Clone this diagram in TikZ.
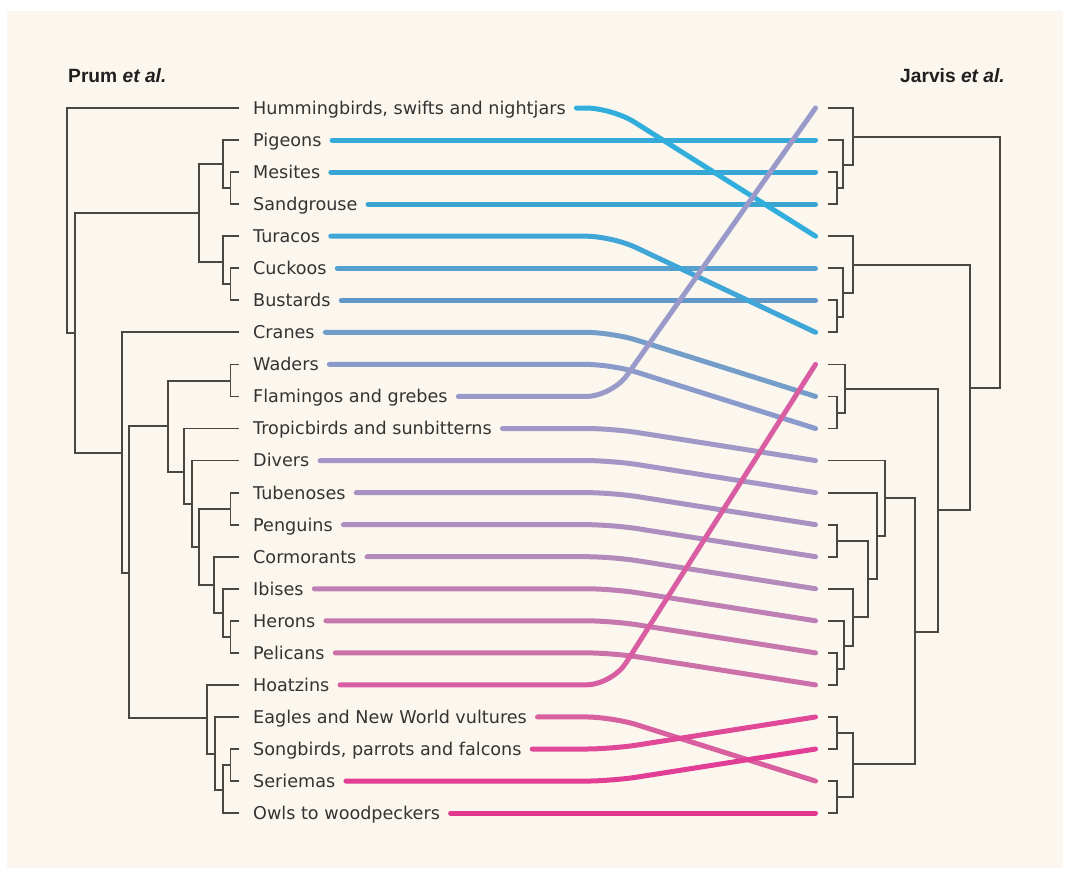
\documentclass[tikz,border=0pt]{standalone}
\usepackage{fontspec}
\setmainfont{DejaVu Sans}
\newfontfamily\headfont{Liberation Sans}
\usetikzlibrary{calc}
\definecolor{bg}{HTML}{FBF7EE}
\definecolor{txt}{HTML}{333333}
\definecolor{treec}{HTML}{4A4743}
\definecolor{c0}{HTML}{32AEDC}
\definecolor{c1}{HTML}{35A9D8}
\definecolor{c2}{HTML}{38A6D4}
\definecolor{c3}{HTML}{3BA3D0}
\definecolor{c4}{HTML}{40A6D8}
\definecolor{c5}{HTML}{55A0CC}
\definecolor{c6}{HTML}{6298C8}
\definecolor{c7}{HTML}{749EC9}
\definecolor{c8}{HTML}{8A9ACB}
\definecolor{c9}{HTML}{9A9ACA}
\definecolor{c10}{HTML}{A098C6}
\definecolor{c11}{HTML}{A396C6}
\definecolor{c12}{HTML}{A892C2}
\definecolor{c13}{HTML}{AE8EBE}
\definecolor{c14}{HTML}{B48ABA}
\definecolor{c15}{HTML}{BE80B4}
\definecolor{c16}{HTML}{C678AE}
\definecolor{c17}{HTML}{CC70AA}
\definecolor{c18}{HTML}{D95DA2}
\definecolor{c19}{HTML}{D8609E}
\definecolor{c20}{HTML}{E04898}
\definecolor{c21}{HTML}{E23E96}
\definecolor{c22}{HTML}{E0388F}
\begin{document}
\begin{tikzpicture}[x=1pt,y=-1pt,
  tree/.style={draw=treec, line width=1.8pt},
  lab/.style={anchor=base west, inner sep=0pt, text=txt, font=\fontsize{17.6}{20}\selectfont},
  head/.style={inner sep=0pt, text=black!88, font=\headfont\bfseries\fontsize{19.2}{22}\selectfont},
  link/.style={line width=5pt, line cap=round, rounded corners=26pt}]
\fill[white] (0,0) rectangle (1070,879);
\fill[bg] (7,11) rectangle (1063,868);
\useasboundingbox (0,0) rectangle (1070,879);
% row coordinates
\foreach \i in {0,...,22}{
  \coordinate (lf\i) at (239,{108+32.05*\i});
  \coordinate (rt\i) at (828,{108+32.05*\i});
  \coordinate (re\i) at (815.5,{108+32.05*\i});
}
% headers
\node[head, anchor=base west] (hl) at (68,82) {Prum \textit{et al.}};
\node[head, anchor=base east] (hr) at (1005,82) {Jarvis \textit{et al.}};
% labels
\foreach \i/\t in {0/{Hummingbirds, swifts and nightjars},1/Pigeons,2/Mesites,3/Sandgrouse,4/Turacos,5/Cuckoos,6/Bustards,7/Cranes,8/Waders,9/Flamingos and grebes,10/Tropicbirds and sunbitterns,11/Divers,12/Tubenoses,13/Penguins,14/Cormorants,15/Ibises,16/Herons,17/Pelicans,18/Hoatzins,19/Eagles and New World vultures,20/{Songbirds, parrots and falcons},21/Seriemas,22/Owls to woodpeckers}{
  \node[lab] (L\i) at (253,{108+32.05*\i+6.4}) {\t};
}
% coloured links
\foreach \i/\j in {1/1,2/2,3/3,5/5,6/6,7/9,8/10,10/11,11/12,12/13,13/14,14/15,15/16,16/17,17/18,19/21,20/19,21/20,22/22,0/4,4/7,9/0,18/8}{
  \draw[link, draw=c\i] ($(L\i.base east)+(10.5,-6.4)$) -- (612,{108+32.05*\i}) -- (re\j);
}
% left tree
\coordinate (lA) at (66.7,220);
\coordinate (lB) at (75,333);
\coordinate (lC) at (199,213);
\coordinate (lC1) at (222.7,164);
\coordinate (lC1a) at (230.5,188);
\coordinate (lC2) at (222.7,262);
\coordinate (lC2a) at (230.5,284);
\coordinate (lD) at (121.7,452.7);
\coordinate (lE) at (129.3,573);
\coordinate (lF) at (168.3,426);
\coordinate (lF1) at (230.5,381);
\coordinate (lF2) at (184,471.7);
\coordinate (lF3) at (191.7,504);
\coordinate (lF4) at (199.3,547);
\coordinate (lF5) at (230.5,509);
\coordinate (lF6) at (214.3,585);
\coordinate (lF7) at (222.7,613);
\coordinate (lF8) at (230.5,637);
\coordinate (lG) at (206.7,718);
\coordinate (lG1) at (215,754);
\coordinate (lG2) at (222.7,790);
\coordinate (lG3) at (230.5,765);
\foreach \p/\a/\b in {lA/lf0/lB, lB/lC/lD, lC/lC1/lC2, lC1/lf1/lC1a, lC1a/lf2/lf3, lC2/lf4/lC2a, lC2a/lf5/lf6, lD/lf7/lE, lE/lF/lG, lF/lF1/lF2, lF1/lf8/lf9, lF2/lf10/lF3, lF3/lf11/lF4, lF4/lF5/lF6, lF5/lf12/lf13, lF6/lf14/lF7, lF7/lf15/lF8, lF8/lf16/lf17, lG/lf18/lG1, lG1/lf19/lG2, lG2/lG3/lf22, lG3/lf20/lf21}{
  \draw[tree] (\a) -| (\p) |- (\b);
}
% right tree
\coordinate (rA) at (1000,260);
\coordinate (r2) at (852.7,137.3);
\coordinate (r1) at (843.3,165);
\coordinate (r0a) at (837.3,188);
\coordinate (r14) at (970,387.7);
\coordinate (r4) at (852.7,265);
\coordinate (r3) at (843.3,293.3);
\coordinate (r3a) at (837.3,316.7);
\coordinate (r13) at (938.3,510);
\coordinate (r5) at (845,389);
\coordinate (r5a) at (837.3,413);
\coordinate (r12) at (915,631.7);
\coordinate (r10) at (885,498.3);
\coordinate (r9) at (876.7,536);
\coordinate (r8) at (868.3,579);
\coordinate (r8a) at (837.3,541);
\coordinate (r7) at (852.7,617);
\coordinate (r6) at (844.3,646);
\coordinate (r6a) at (836.7,669);
\coordinate (r11) at (852.7,764.3);
\coordinate (r11a) at (837.3,733);
\coordinate (r11b) at (837.3,797);
\foreach \p/\a/\b in {rA/r2/r14, r2/rt0/r1, r1/rt1/r0a, r0a/rt2/rt3, r14/r4/r13, r4/rt4/r3, r3/rt5/r3a, r3a/rt6/rt7, r13/r5/r12, r5/rt8/r5a, r5a/rt9/rt10, r12/r10/r11, r10/rt11/r9, r9/rt12/r8, r8/r8a/r7, r8a/rt13/rt14, r7/rt15/r6, r6/rt16/r6a, r6a/rt17/rt18, r11/r11a/r11b, r11a/rt19/rt20, r11b/rt21/rt22}{
  \draw[tree] (\a) -| (\p) |- (\b);
}
\end{tikzpicture}
\end{document}
